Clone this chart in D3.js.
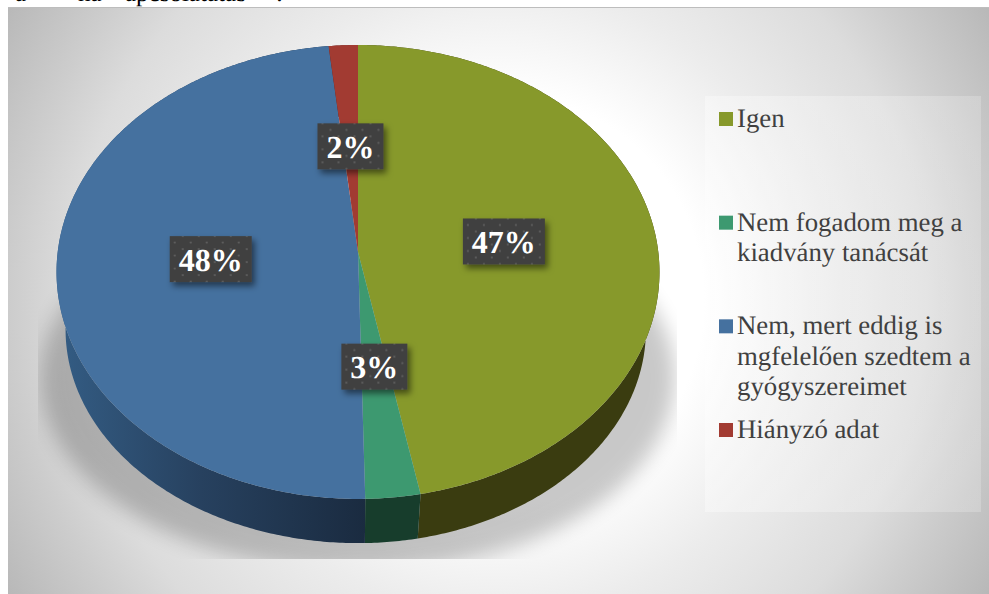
<!DOCTYPE html>
<html>
<head>
<meta charset="utf-8">
<title>Pie</title>
<script src="https://cdn.jsdelivr.net/npm/d3@7"></script>
<style>
  html, body { margin: 0; padding: 0; background: #fff; }
  svg { display: block; font-family: "Liberation Serif", serif; text-rendering: geometricPrecision; }
</style>
</head>
<body>
<svg id="chart" width="989" height="594"></svg>
<script>
// values estimated from the slice edges, the printed labels are kept as they are in the picture
var categories = ['Igen', 'Nem fogadom meg a kiadvány tanácsát', 'Nem, mert eddig is mgfelelően szedtem a gyógyszereimet', 'Hiányzó adat'];
var values = [47, 2.7, 48.7, 1.7];
var pctLabels = ['47%', '3%', '48%', '2%'];
var legendLines = [['Igen'], ['Nem fogadom meg a', 'kiadvány tanácsát'], ['Nem, mert eddig is', 'mgfelelően szedtem a', 'gyógyszereimet'], ['Hiányzó adat']];
var topColors = ['#87992b', '#3d9970', '#45719f', '#a23b32'];
var sideColors = ['#3a3c10', '#173d2c', 'url(#blueSide)', '#5a201c'];
var clippedHeading = [['a', 15], ['ha', 78], ['apcsolat', 125], ['atás', 207], [':', 276]];

var svg = d3.select('#chart');
var defs = svg.append('defs');

var bg = defs.append('radialGradient').attr('id', 'bg').attr('gradientUnits', 'userSpaceOnUse')
  .attr('cx', 498).attr('cy', 300).attr('r', 572);
[[0.36, '#ffffff'], [0.55, '#ececec'], [0.75, '#dcdcdc'], [0.85, '#cdcdcd'], [1, '#b8b8b8']].forEach(function(s){
  bg.append('stop').attr('offset', s[0]).attr('stop-color', s[1]);
});

var legendFill = defs.append('linearGradient').attr('id', 'legendFill');
legendFill.append('stop').attr('offset', 0).attr('stop-color', '#fff').attr('stop-opacity', 0.35);
legendFill.append('stop').attr('offset', 1).attr('stop-color', '#fff').attr('stop-opacity', 0.2);

var blueSide = defs.append('linearGradient').attr('id', 'blueSide').attr('gradientUnits', 'userSpaceOnUse')
  .attr('x1', 65).attr('x2', 366).attr('y1', 0).attr('y2', 0);
blueSide.append('stop').attr('offset', 0).attr('stop-color', '#335b82');
blueSide.append('stop').attr('offset', 0.45).attr('stop-color', '#27415f');
blueSide.append('stop').attr('offset', 1).attr('stop-color', '#1a2b40');

var dots = defs.append('pattern').attr('id', 'dots').attr('patternUnits', 'userSpaceOnUse')
  .attr('width', 16).attr('height', 13);
dots.append('rect').attr('width', 16).attr('height', 13).attr('fill', '#404040');
dots.append('circle').attr('cx', 4).attr('cy', 3).attr('r', 1.1).attr('fill', '#606060');
dots.append('circle').attr('cx', 12).attr('cy', 9.5).attr('r', 1.1).attr('fill', '#606060');

var blur = defs.append('filter').attr('id', 'blur').attr('x', '-20%').attr('y', '-20%').attr('width', '140%').attr('height', '140%');
blur.append('feGaussianBlur').attr('stdDeviation', 10);

var boxShadow = defs.append('filter').attr('id', 'boxShadow').attr('x', '-20%').attr('y', '-30%').attr('width', '150%').attr('height', '170%');
boxShadow.append('feDropShadow').attr('dx', 3).attr('dy', 4).attr('stdDeviation', 3)
  .attr('flood-color', '#000').attr('flood-opacity', 0.5);

defs.append('clipPath').attr('id', 'shadowClip').append('rect')
  .attr('x', 38).attr('y', 200).attr('width', 639).attr('height', 359);

// heading of the page above, only the bottom of the letters is in view
svg.selectAll('.heading').data(clippedHeading).enter().append('text')
  .attr('class', 'heading')
  .attr('x', function(d){ return d[1]; })
  .attr('y', 0.5)
  .attr('font-size', 25)
  .attr('fill', '#000')
  .text(function(d){ return d[0]; });

svg.append('rect').attr('x', 8).attr('y', 8).attr('width', 981).attr('height', 586).attr('fill', 'url(#bg)');
svg.append('rect').attr('x', 8).attr('y', 7).attr('width', 981).attr('height', 1).attr('fill', '#bdbdbd');

// pie is tilted with some perspective, so the hub is not in the middle of the outline
var hubX = 358, hubY = 252, radX = 300.3, radY = 225.2, persp = 0.088;
var depthY = 59, scaleLeft = 0.97, scaleRight = 0.955, scaleY = 0.94;

function project(angle, r) {
  var u = Math.sin(angle) * r, v = -Math.cos(angle) * r;
  var w = 1 - persp * v;
  return [hubX + radX * u / w, hubY + radY * v / w];
}

function projectBottom(angle) {
  var p = project(angle, 1);
  var dx = p[0] - hubX;
  return [hubX + dx * (dx < 0 ? scaleLeft : scaleRight), hubY + depthY + (p[1] - hubY) * scaleY];
}

var pie = d3.pie().sort(null);
var slices = pie(values);
var line = d3.line();

function arcAngles(d) {
  var n = Math.max(2, Math.ceil((d.endAngle - d.startAngle) / 0.01));
  return d3.range(n + 1).map(function(i){
    return d.startAngle + (d.endAngle - d.startAngle) * i / n;
  });
}

// shadow under the pie
svg.append('g').attr('clip-path', 'url(#shadowClip)')
  .append('ellipse')
  .attr('cx', 358).attr('cy', 378).attr('rx', 317).attr('ry', 193)
  .attr('fill', '#000').attr('opacity', 0.21).attr('filter', 'url(#blur)');

svg.selectAll('.side').data(slices).enter().append('path')
  .attr('class', 'side')
  .attr('fill', function(d, i){ return sideColors[i]; })
  .attr('d', function(d){
    var a = arcAngles(d);
    var pts = a.map(function(t){ return project(t, 1); })
      .concat(a.slice().reverse().map(projectBottom));
    return line(pts) + 'Z';
  });

svg.selectAll('.slice').data(slices).enter().append('path')
  .attr('class', 'slice')
  .attr('fill', function(d, i){ return topColors[i]; })
  .attr('d', function(d){
    var pts = [[hubX, hubY]].concat(arcAngles(d).map(function(t){ return project(t, 1); }));
    return line(pts) + 'Z';
  });

// percent labels sit about half way out on each slice
var labelG = svg.selectAll('.pct').data(slices).enter().append('g')
  .attr('class', 'pct')
  .attr('transform', function(d){
    var p = project((d.startAngle + d.endAngle) / 2, 0.49);
    return 'translate(' + p[0] + ',' + p[1] + ')';
  });

labelG.append('rect').attr('filter', 'url(#boxShadow)').attr('fill', 'url(#dots)');
labelG.append('text')
  .attr('text-anchor', 'middle')
  .attr('y', 11.5)
  .attr('font-size', 32)
  .attr('font-weight', 'bold')
  .attr('fill', '#fff')
  .text(function(d, i){ return pctLabels[i]; });
labelG.each(function(){
  var g = d3.select(this);
  var w = g.select('text').node().getComputedTextLength() + 18;
  g.select('rect').attr('x', -w / 2).attr('y', -23).attr('width', w).attr('height', 46);
});

// legend
svg.append('rect').attr('x', 705).attr('y', 96).attr('width', 276).attr('height', 416).attr('fill', 'url(#legendFill)');

var legendY = d3.scalePoint().domain(categories).range([119, 430]);
var legendG = svg.selectAll('.legend').data(categories).enter().append('g')
  .attr('class', 'legend')
  .attr('transform', function(d){ return 'translate(719,' + legendY(d) + ')'; });

legendG.append('rect').attr('y', -7).attr('width', 14).attr('height', 14)
  .attr('fill', function(d, i){ return topColors[i]; });
legendG.each(function(d, i){
  d3.select(this).selectAll('text').data(legendLines[i]).enter().append('text')
    .attr('x', 18)
    .attr('y', function(l, j){ return 8 + j * 30.2; })
    .attr('font-size', 26.8)
    .attr('fill', '#404040')
    .text(function(l){ return l; });
});
</script>
</body>
</html>
